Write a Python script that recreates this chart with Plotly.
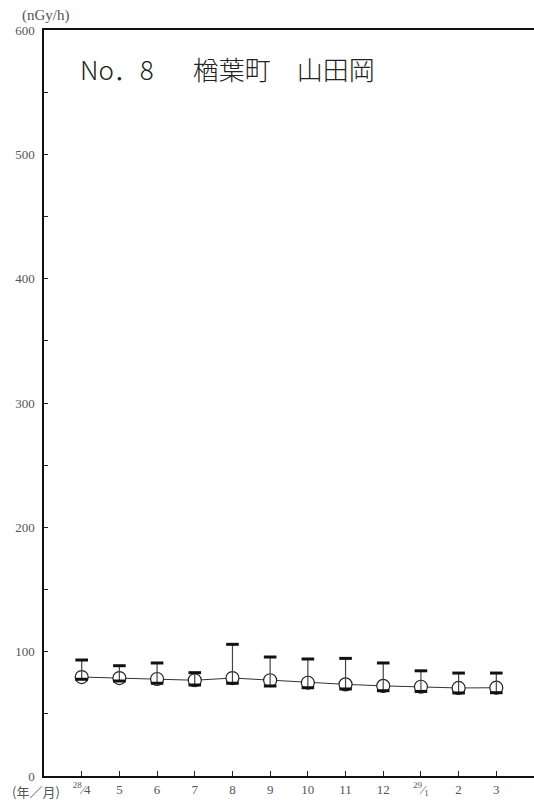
import plotly.graph_objects as go

months = ["<sup>28</sup>⁄4", "5", "6", "7", "8", "9", "10", "11", "12", "<sup>29</sup>⁄<sub>1</sub>", "2", "3"]
mean_vals = [79.6, 78.8, 78.0, 77.0, 78.8, 77.0, 75.0, 73.7, 72.5, 71.8, 70.8, 71.0]
max_vals = [93.3, 88.7, 90.9, 83.1, 105.9, 95.7, 94.1, 94.6, 90.9, 84.6, 82.8, 82.8]
min_vals = [77.8, 76.4, 74.6, 73.2, 74.6, 72.4, 71.0, 70.0, 68.6, 68.0, 66.8, 67.0]
y_tick_vals = [0, 50, 100, 150, 200, 250, 300, 350, 400, 450, 500, 550, 600]
y_tick_text = ["0", "", "100", "", "200", "", "300", "", "400", "", "500", "", "600"]

x_idx = list(range(len(months)))
up = [mx - m for mx, m in zip(max_vals, mean_vals)]
down = [m - mn for mn, m in zip(min_vals, mean_vals)]

fig = go.Figure()
fig.add_trace(go.Scatter(
    x=x_idx, y=mean_vals, mode="lines+markers",
    line=dict(color="#333333", width=1),
    marker=dict(symbol="circle", size=13, color="white", line=dict(color="#222222", width=1.2)),
    showlegend=False, hoverinfo="skip"))
fig.add_trace(go.Scatter(
    x=x_idx, y=mean_vals, mode="markers",
    marker=dict(size=1, color="rgba(0,0,0,0)"),
    error_y=dict(type="data", symmetric=False, array=up, arrayminus=down,
                 color="#444444", thickness=1.2, width=0),
    showlegend=False, hoverinfo="skip"))
fig.add_trace(go.Scatter(
    x=x_idx + x_idx, y=max_vals + min_vals, mode="markers",
    marker=dict(symbol="line-ew", size=9, line=dict(color="#111111", width=3)),
    showlegend=False, hoverinfo="skip"))

tick_font = dict(family="Liberation Serif, DejaVu Serif, serif", size=13, color="#555555")

fig.update_xaxes(
    range=[-1, 12], tickvals=x_idx, ticktext=months,
    ticks="inside", ticklen=5, tickwidth=1, tickcolor="#222222",
    showline=True, linecolor="#111111", linewidth=2, mirror=True,
    showgrid=False, zeroline=False, tickfont=tick_font)
fig.update_yaxes(
    range=[0, 600], tickvals=y_tick_vals, ticktext=y_tick_text,
    ticks="inside", ticklen=4, tickwidth=1, tickcolor="#222222",
    showline=True, linecolor="#111111", linewidth=1.5, mirror=False,
    showgrid=False, zeroline=False, tickfont=tick_font, ticklabelstandoff=5)

fig.add_annotation(text="(nGy/h)", xref="paper", yref="paper", x=-0.049, y=1.02,
                   xanchor="left", yanchor="middle", showarrow=False,
                   font=dict(family="Liberation Serif, serif", size=15, color="#555555"))
fig.add_annotation(text="(年／月)", xref="paper", yref="paper", x=-0.07, y=-0.0214,
                   xanchor="left", yanchor="middle", showarrow=False,
                   font=dict(family="Noto Sans CJK JP", size=13, color="#555555"))
fig.add_annotation(text="No．8　\u2002楢葉町　山田岡", xref="paper", yref="paper", x=0.069, y=0.949,
                   xanchor="left", yanchor="middle", showarrow=False,
                   font=dict(family="Noto Sans CJK JP", size=26, color="#222222", weight=300))

fig.update_layout(
    width=534, height=805,
    margin=dict(l=44, r=0, t=30, b=29),
    paper_bgcolor="white", plot_bgcolor="white")

fig.write_html("out.html", config={"displayModeBar": False},
               post_script="document.body.style.margin='0';document.body.style.overflow='hidden';")
